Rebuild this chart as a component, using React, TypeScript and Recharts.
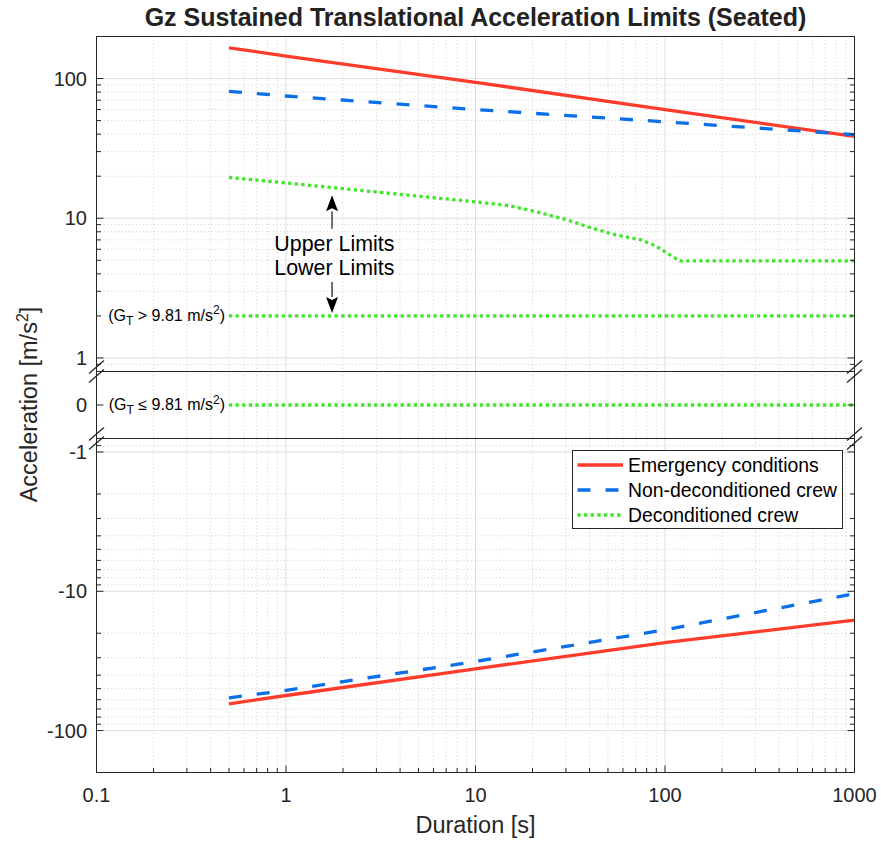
import React from 'react';
import {
  LineChart,
  Line,
  XAxis,
  YAxis,
  CartesianGrid,
  ReferenceLine,
  ReferenceDot,
} from 'recharts';

// ---- Data: durations [s] and acceleration limits [m/s^2] ----
const posEmergencyT = [0.5, 1, 10, 100, 1000];
const posEmergency = [166, 145, 94, 60, 38.5];

const posNonDeconT = [0.5, 1, 10, 100, 1000];
const posNonDecon = [81, 75, 60, 49, 39.7];

const posDeconT = [0.5, 1, 10, 15, 20, 30, 40, 55, 75, 90, 110, 120, 1000];
const posDecon = [19.6, 17.9, 13.1, 12.3, 11.3, 9.8, 8.6, 7.6, 7.0, 6.3, 5.3, 4.95, 4.95];

// Deconditioned lower limits, depending on the transverse load G_T
const deconLowerT = [0.5, 1000];
const deconLowerHighGt = [2.0, 2.0]; // G_T > 9.81 m/s^2
const deconLowerLowGt = [0, 0]; // G_T <= 9.81 m/s^2

const negEmergencyT = [0.5, 1, 10, 100, 1000];
const negEmergency = [-64.2, -56, -36, -23.4, -16.1];

const negNonDeconT = [0.5, 1, 10, 100, 1000];
const negNonDecon = [-58.2, -51.5, -31.9, -18.9, -10.4];

// ---- Axis ticks ----
const X_TICKS = [
  0.1, 0.2, 0.3, 0.4, 0.5, 0.6, 0.7, 0.8, 0.9,
  1, 2, 3, 4, 5, 6, 7, 8, 9,
  10, 20, 30, 40, 50, 60, 70, 80, 90,
  100, 200, 300, 400, 500, 600, 700, 800, 900,
  1000,
];
const X_MAJOR = [0.1, 1, 10, 100, 1000];
const X_MAJOR_LABELS = ['0.1', '1', '10', '100', '1000'];
const X_GRID_MAJOR = [1, 10, 100];

const POS_Y_TICKS = [
  0.9, 1, 2, 3, 4, 5, 6, 7, 8, 9,
  10, 20, 30, 40, 50, 60, 70, 80, 90,
  100, 200,
];
const POS_Y_MAJOR = [1, 10, 100];
const POS_Y_LABELS = ['1', '10', '100'];

const NEG_Y_TICKS = [
  -200, -100, -90, -80, -70, -60, -50, -40, -30, -20,
  -10, -9, -8, -7, -6, -5, -4, -3, -2, -1, -0.9,
];
const NEG_Y_MAJOR = [-1, -10, -100];
const NEG_Y_LABELS = ['-1', '-10', '-100'];

const ZERO_Y_TICKS = [0];
const ZERO_Y_LABELS = ['0'];

const X_DOMAIN: [number, number] = [0.1, 1000];
const POS_DOMAIN: [number, number] = [0.8, 200];
const ZERO_DOMAIN: [number, number] = [-1, 1];
const NEG_DOMAIN: [number, number] = [-200, -0.8];

// ---- Styling ----
const FONT = '"Liberation Sans", Arial, Helvetica, sans-serif';
const INK = '#262626';
const RED = '#ff3b2b';
const BLUE = '#0b70e8';
const GREEN = '#3fe62a';
const LINE_W = 3.3;
const DASH_BLUE = '13 15';
const DASH_GREEN = '3.3 3.3';
const GRID_MAJOR = '#dfdfdf';
const GRID_MINOR = '#cfcfcf';
const GRID_MINOR_DASH = '1 2.6';

const SERIES = [
  { name: 'Emergency conditions', color: RED, dash: undefined as string | undefined },
  { name: 'Non-deconditioned crew', color: BLUE, dash: DASH_BLUE },
  { name: 'Deconditioned crew', color: GREEN, dash: DASH_GREEN },
];

// ---- Layout (page pixels) ----
const W = 881;
const H = 841;
const PLOT_LEFT = 96.5;
const PLOT_RIGHT = 854.5;
const PLOT_TOP = 36.5;
const BREAK_1 = 371.5;
const BREAK_2 = 438.5;
const PLOT_BOTTOM = 772.5;
const MAJOR_TICK = 7;
const MINOR_TICK = 4.5;

const pts = (t: number[], v: number[]) => t.map((d, i) => ({ t: d, v: v[i] }));

const isIn = (list: number[], v: number) => list.some((m) => Math.abs(m - v) < 1e-9);

type Edge = { y: number; dir: 1 | -1 };

function makeXTick(edges: Edge[], labelY?: number) {
  return (props: any) => {
    const v = props.payload.value as number;
    const x = props.payload.coordinate ?? props.x;
    const idx = X_MAJOR.findIndex((m) => Math.abs(m - v) < 1e-9);
    const len = idx >= 0 ? MAJOR_TICK : MINOR_TICK;
    return (
      <g>
        {edges.map((e, i) => (
          <line key={i} x1={x} x2={x} y1={e.y} y2={e.y + e.dir * len} stroke={INK} strokeWidth={1} />
        ))}
        {idx >= 0 && labelY !== undefined && (
          <text x={x} y={labelY} textAnchor="middle" fontFamily={FONT} fontSize={20} fill={INK}>
            {X_MAJOR_LABELS[idx]}
          </text>
        )}
      </g>
    );
  };
}

function makeYTick(majors: number[], labels: string[]) {
  return (props: any) => {
    const v = props.payload.value as number;
    const y = props.payload.coordinate ?? props.y;
    const idx = majors.findIndex((m) => Math.abs(m - v) < 1e-9);
    const len = idx >= 0 ? MAJOR_TICK : MINOR_TICK;
    return (
      <g>
        <line x1={PLOT_LEFT} x2={PLOT_LEFT + len} y1={y} y2={y} stroke={INK} strokeWidth={1} />
        <line x1={PLOT_RIGHT - len} x2={PLOT_RIGHT} y1={y} y2={y} stroke={INK} strokeWidth={1} />
        {idx >= 0 && (
          <text x={PLOT_LEFT - 9.5} y={y + 7} textAnchor="end" fontFamily={FONT} fontSize={20} fill={INK}>
            {labels[idx]}
          </text>
        )}
      </g>
    );
  };
}

// Arrow drawn along a ReferenceLine segment, head at the second point
const ArrowShape = (props: any) => {
  const { x1, y1, x2, y2 } = props;
  const dir = y2 < y1 ? -1 : 1;
  const headLen = 16;
  const headHalf = 6;
  const baseY = y2 - dir * headLen;
  return (
    <g>
      <line x1={x1} y1={y1} x2={x2} y2={baseY} stroke={INK} strokeWidth={1.3} />
      <polygon
        points={`${x2},${y2} ${x2 - headHalf},${baseY} ${x2},${baseY + dir * 3} ${x2 + headHalf},${baseY}`}
        fill="#000"
      />
    </g>
  );
};

const LimitsLabel = (props: any) => {
  const { cx, cy } = props;
  return (
    <g>
      <text x={cx} y={cy - 11.8} textAnchor="middle" fontFamily={FONT} fontSize={21.4} fill="#000">
        Upper Limits
      </text>
      <text x={cx} y={cy + 12.2} textAnchor="middle" fontFamily={FONT} fontSize={21.4} fill="#000">
        Lower Limits
      </text>
    </g>
  );
};

const GtLabel = (relation: string) => (props: any) => {
  const { cx, cy } = props;
  return (
    <text x={cx - 4} y={cy + 5} textAnchor="end" fontFamily={FONT} fontSize={16} fill="#000">
      (G
      <tspan fontSize={12} dy={4}>T</tspan>
      <tspan dy={-4}>{` ${relation}  9.81 m/s`}</tspan>
      <tspan fontSize={12} dy={-6.5}>2</tspan>
      <tspan dy={6.5}>)</tspan>
    </text>
  );
};

const UP_ARROW = [
  { x: 1.75, y: 8.4 },
  { x: 1.75, y: 14.6 },
];
const DOWN_ARROW = [
  { x: 1.75, y: 3.5 },
  { x: 1.75, y: 2.1 },
];
const LIMITS_LABEL_AT = { x: 1.8, y: 4.8 };

const commonX = {
  dataKey: 't',
  type: 'number' as const,
  scale: 'log' as const,
  domain: X_DOMAIN,
  allowDataOverflow: true,
  ticks: X_TICKS,
  interval: 0 as const,
  axisLine: false,
  tickLine: false,
};

const lineProps = {
  dataKey: 'v',
  type: 'linear' as const,
  dot: false,
  activeDot: false,
  strokeWidth: LINE_W,
  isAnimationActive: false,
  strokeLinecap: 'butt' as const,
};

const xMinor = X_TICKS.filter((v) => !isIn(X_MAJOR, v));
const posMinor = POS_Y_TICKS.filter((v) => !isIn(POS_Y_MAJOR, v));
const negMinor = NEG_Y_TICKS.filter((v) => !isIn(NEG_Y_MAJOR, v));

function BreakMarks() {
  const marks: JSX.Element[] = [];
  [BREAK_1, BREAK_2].forEach((by, i) => {
    [PLOT_LEFT, PLOT_RIGHT].forEach((bx, j) => {
      [-4.5, 4.5].forEach((off, k) => {
        const cy = by + off;
        marks.push(
          <line
            key={`${i}-${j}-${k}`}
            x1={bx - 7.5}
            y1={cy + 6.5}
            x2={bx + 7.5}
            y2={cy - 6.5}
            stroke={INK}
            strokeWidth={1.3}
          />
        );
      });
    });
  });
  return <g>{marks}</g>;
}

export default function App() {
  const posTop = 0;
  const zeroTop = 371;
  const negTop = 438;
  const negHeight = H - negTop;
  const negPlotBottomLocal = PLOT_BOTTOM - negTop;

  return (
    <div style={{ position: 'absolute', left: 0, top: 0, width: W, height: H, background: '#fff', fontFamily: FONT }}>
      {/* Positive Gz panel (log) */}
      <div style={{ position: 'absolute', left: 0, top: posTop }}>
        <LineChart
          width={W}
          height={372}
          margin={{ top: PLOT_TOP, right: W - PLOT_RIGHT, bottom: 372 - BREAK_1, left: 0 }}
        >
          <CartesianGrid verticalValues={xMinor} horizontalValues={posMinor} stroke={GRID_MINOR} strokeDasharray={GRID_MINOR_DASH} />
          <CartesianGrid verticalValues={X_GRID_MAJOR} horizontalValues={POS_Y_MAJOR} stroke={GRID_MAJOR} />
          <XAxis {...commonX} orientation="top" height={0} tick={makeXTick([{ y: PLOT_TOP, dir: 1 }])} />
          <YAxis
            type="number"
            scale="log"
            domain={POS_DOMAIN}
            allowDataOverflow
            ticks={POS_Y_TICKS}
            interval={0}
            width={PLOT_LEFT}
            axisLine={false}
            tickLine={false}
            tick={makeYTick(POS_Y_MAJOR, POS_Y_LABELS)}
          />
          <Line {...lineProps} data={pts(posEmergencyT, posEmergency)} stroke={RED} name="Emergency conditions" />
          <Line {...lineProps} data={pts(posNonDeconT, posNonDecon)} stroke={BLUE} strokeDasharray={DASH_BLUE} name="Non-deconditioned crew" />
          <Line {...lineProps} data={pts(posDeconT, posDecon)} stroke={GREEN} strokeDasharray={DASH_GREEN} name="Deconditioned crew" />
          <Line {...lineProps} data={pts(deconLowerT, deconLowerHighGt)} stroke={GREEN} strokeDasharray={DASH_GREEN} legendType="none" />
          <ReferenceLine segment={UP_ARROW} shape={ArrowShape} />
          <ReferenceLine segment={DOWN_ARROW} shape={ArrowShape} />
          <ReferenceDot x={LIMITS_LABEL_AT.x} y={LIMITS_LABEL_AT.y} r={0} shape={LimitsLabel} />
          <ReferenceDot x={deconLowerT[0]} y={deconLowerHighGt[0]} r={0} shape={GtLabel('>')} />
        </LineChart>
      </div>

      {/* Zero panel (linear) */}
      <div style={{ position: 'absolute', left: 0, top: zeroTop }}>
        <LineChart
          width={W}
          height={68}
          margin={{ top: BREAK_1 - zeroTop, right: W - PLOT_RIGHT, bottom: zeroTop + 68 - BREAK_2, left: 0 }}
        >
          <CartesianGrid verticalValues={xMinor} horizontal={false} stroke={GRID_MINOR} strokeDasharray={GRID_MINOR_DASH} />
          <CartesianGrid verticalValues={X_GRID_MAJOR} horizontal={false} stroke={GRID_MAJOR} />
          <XAxis
            {...commonX}
            orientation="bottom"
            height={0}
            tick={makeXTick([
              { y: BREAK_1 - zeroTop, dir: 1 },
              { y: BREAK_2 - zeroTop, dir: -1 },
            ])}
          />
          <YAxis
            type="number"
            domain={ZERO_DOMAIN}
            allowDataOverflow
            ticks={ZERO_Y_TICKS}
            interval={0}
            width={PLOT_LEFT}
            axisLine={false}
            tickLine={false}
            tick={makeYTick(ZERO_Y_TICKS, ZERO_Y_LABELS)}
          />
          <Line {...lineProps} data={pts(deconLowerT, deconLowerLowGt)} stroke={GREEN} strokeDasharray={DASH_GREEN} />
          <ReferenceDot x={deconLowerT[0]} y={deconLowerLowGt[0]} r={0} shape={GtLabel('≤')} />
        </LineChart>
      </div>

      {/* Negative Gz panel (log) */}
      <div style={{ position: 'absolute', left: 0, top: negTop }}>
        <LineChart
          width={W}
          height={negHeight}
          margin={{ top: BREAK_2 - negTop, right: W - PLOT_RIGHT, bottom: 0, left: 0 }}
        >
          <CartesianGrid verticalValues={xMinor} horizontalValues={negMinor} stroke={GRID_MINOR} strokeDasharray={GRID_MINOR_DASH} />
          <CartesianGrid verticalValues={X_GRID_MAJOR} horizontalValues={NEG_Y_MAJOR} stroke={GRID_MAJOR} />
          <XAxis
            {...commonX}
            orientation="bottom"
            height={negHeight - negPlotBottomLocal}
            tick={makeXTick([{ y: negPlotBottomLocal, dir: -1 }], negPlotBottomLocal + 29.5)}
          />
          <YAxis
            type="number"
            scale="log"
            domain={NEG_DOMAIN}
            allowDataOverflow
            ticks={NEG_Y_TICKS}
            interval={0}
            width={PLOT_LEFT}
            axisLine={false}
            tickLine={false}
            tick={makeYTick(NEG_Y_MAJOR, NEG_Y_LABELS)}
          />
          <Line {...lineProps} data={pts(negEmergencyT, negEmergency)} stroke={RED} />
          <Line {...lineProps} data={pts(negNonDeconT, negNonDecon)} stroke={BLUE} strokeDasharray={DASH_BLUE} />
        </LineChart>
      </div>

      {/* Frame, title, axis labels */}
      <svg width={W} height={H} style={{ position: 'absolute', left: 0, top: 0, pointerEvents: 'none' }}>
        <g stroke={INK} strokeWidth={1} fill="none">
          <line x1={PLOT_LEFT} x2={PLOT_RIGHT} y1={PLOT_TOP} y2={PLOT_TOP} />
          <line x1={PLOT_LEFT} x2={PLOT_RIGHT} y1={BREAK_1} y2={BREAK_1} />
          <line x1={PLOT_LEFT} x2={PLOT_RIGHT} y1={BREAK_2} y2={BREAK_2} />
          <line x1={PLOT_LEFT} x2={PLOT_RIGHT} y1={PLOT_BOTTOM} y2={PLOT_BOTTOM} />
          <line x1={PLOT_LEFT} x2={PLOT_LEFT} y1={PLOT_TOP} y2={PLOT_BOTTOM} />
          <line x1={PLOT_RIGHT} x2={PLOT_RIGHT} y1={PLOT_TOP} y2={PLOT_BOTTOM} />
        </g>
        <BreakMarks />
        <text
          x={(PLOT_LEFT + PLOT_RIGHT) / 2}
          y={26}
          textAnchor="middle"
          fontFamily={FONT}
          fontSize={25}
          fontWeight="bold"
          fill="#222"
        >
          Gz Sustained Translational Acceleration Limits (Seated)
        </text>
        <text x={(PLOT_LEFT + PLOT_RIGHT) / 2} y={833} textAnchor="middle" fontFamily={FONT} fontSize={23.5} fill={INK}>
          Duration [s]
        </text>
        <text
          transform={`translate(37, ${(PLOT_TOP + PLOT_BOTTOM) / 2}) rotate(-90)`}
          textAnchor="middle"
          fontFamily={FONT}
          fontSize={23.5}
          fill={INK}
        >
          Acceleration [m/s
          <tspan fontSize={16} dy={-9}>2</tspan>
          <tspan dy={9}>]</tspan>
        </text>
      </svg>

      {/* Legend */}
      <svg width={272} height={80} style={{ position: 'absolute', left: 571.5, top: 450 }}>
        <rect x={0.5} y={0.5} width={270} height={78} fill="#fff" stroke={INK} strokeWidth={1} />
        {SERIES.map((s, i) => {
          const y = 15 + i * 25;
          return (
            <g key={s.name}>
              <line x1={5.5} x2={51} y1={y} y2={y} stroke={s.color} strokeWidth={LINE_W} strokeDasharray={s.dash} />
              <text x={56} y={y + 7} fontFamily={FONT} fontSize={19.4} fill="#000">
                {s.name}
              </text>
            </g>
          );
        })}
      </svg>
    </div>
  );
}
